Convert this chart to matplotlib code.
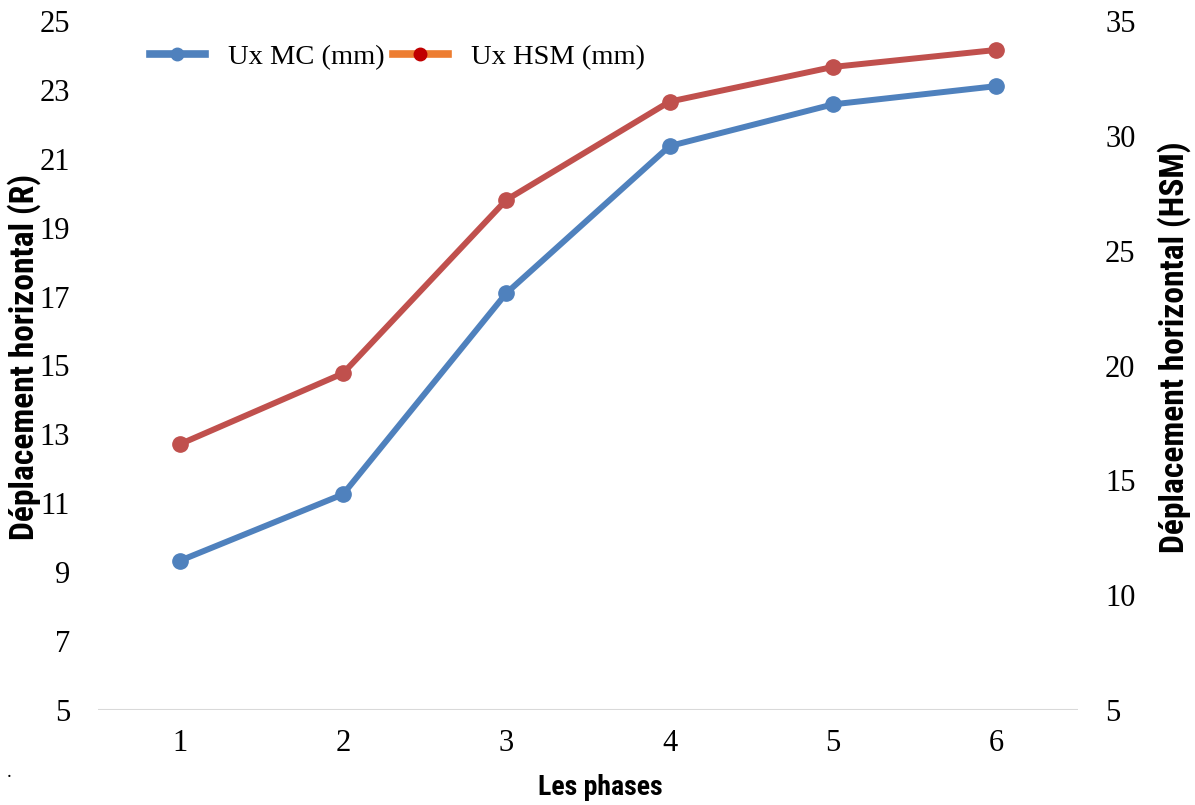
import matplotlib
matplotlib.use("Agg")
import matplotlib.pyplot as plt
from matplotlib.lines import Line2D
from matplotlib import font_manager
from matplotlib.font_manager import FontProperties

phases = [1, 2, 3, 4, 5, 6]
ux_mc = [9.33, 11.26, 17.10, 21.37, 22.58, 23.11]
ux_hsm = [16.57, 19.66, 27.21, 31.49, 33.00, 33.74]
left_ticks = [5, 7, 9, 11, 13, 15, 17, 19, 21, 23, 25]
right_ticks = [5, 10, 15, 20, 25, 30, 35]


def _w(f):
    if isinstance(f.weight, int):
        return f.weight
    return 700 if "bold" in str(f.weight).lower() else 400


def pick_font():
    fonts = font_manager.fontManager.ttflist
    prefs = ["Liberation Sans Narrow", "Roboto Condensed", "Noto Sans Condensed"]
    for p in prefs:
        for f in fonts:
            if f.name == p and 600 <= _w(f) <= 750 and "italic" not in f.style:
                return FontProperties(fname=f.fname)
    for f in fonts:
        if f.name == "DejaVu Sans" and "condensed" in str(f.stretch).lower() and _w(f) >= 600 \
                and f.style == "normal":
            return FontProperties(fname=f.fname)
    return FontProperties(family="Liberation Sans", weight="bold")


label_fp = pick_font()
serif = "Liberation Serif"

fig = plt.figure(figsize=(11.95, 8.05), dpi=100)
ax = fig.add_axes([98 / 1195, 95 / 805, 980 / 1195, 689 / 805])
ax2 = ax.twinx()

blue = "#4F81BD"
red = "#C0504D"
ax.plot(phases, ux_mc, color=blue, lw=4.3, marker="o", ms=11, zorder=3)
ax2.plot(phases, ux_hsm, color=red, lw=4.3, marker="o", ms=11, zorder=3)

ax.set_xlim(0.5, 6.5)
ax.set_ylim(5, 25)
ax2.set_ylim(5, 35)
ax.set_xticks(phases)
ax.set_yticks(left_ticks)
ax2.set_yticks(right_ticks)
ax.axhline(5, color="#D9D9D9", lw=1.5, zorder=1)

for a in (ax, ax2):
    for s in a.spines.values():
        s.set_visible(False)
    a.tick_params(length=0, labelsize=22)
    for lab in a.get_xticklabels() + a.get_yticklabels():
        lab.set_fontfamily(serif)
ax.tick_params(axis="y", pad=20)
ax.tick_params(axis="x", pad=14)
ax2.tick_params(axis="y", pad=19.5)

t_left = fig.text(24 / 1195, 1 - 357 / 805, "Déplacement horizontal (R)", rotation=90,
                  ha="center", va="center", fontproperties=label_fp, fontsize=20)
t_right = fig.text(1174 / 1195, 1 - 347 / 805, "Déplacement horizontal (HSM)", rotation=90,
                   ha="center", va="center", fontproperties=label_fp, fontsize=20)
t_x = fig.text(600 / 1195, 1 - 787 / 805, "Les phases", ha="center", va="center",
               fontproperties=label_fp, fontsize=17)

# fit label sizes to the reference (length, capped by thickness)
fig.canvas.draw()
r = fig.canvas.get_renderer()
for t, target in ((t_left, 475), (t_right, 485)):
    bb = t.get_window_extent(r)
    s_len = 20 * target / bb.height
    s_thk = 20 * 34 / bb.width
    t.set_fontsize(min(s_len, s_thk))
bb = t_x.get_window_extent(r)
t_x.set_fontsize(min(17 * 125 / bb.width, 17 * 30 / bb.height))

h1 = Line2D([], [], color=blue, lw=5.5, marker="o", ms=9)
h2 = Line2D([], [], color="#ED7D31", lw=5.5, marker="o", ms=9,
            markerfacecolor="#C00000", markeredgecolor="#C00000")
ax.legend([h1, h2], ["Ux MC (mm)", "Ux HSM (mm)"], loc="center left",
          bbox_to_anchor=((150 - 98) / 980, (710 - 57) / 689),
          ncol=2, frameon=False, prop={"family": serif, "size": 20.5}, handlelength=1.93,
          columnspacing=0.3, handletextpad=0.8, borderpad=0, borderaxespad=0)

fig.text(0.006, 0.035, ".", fontsize=14, fontfamily=serif)

fig.savefig("out.png", dpi=100)
